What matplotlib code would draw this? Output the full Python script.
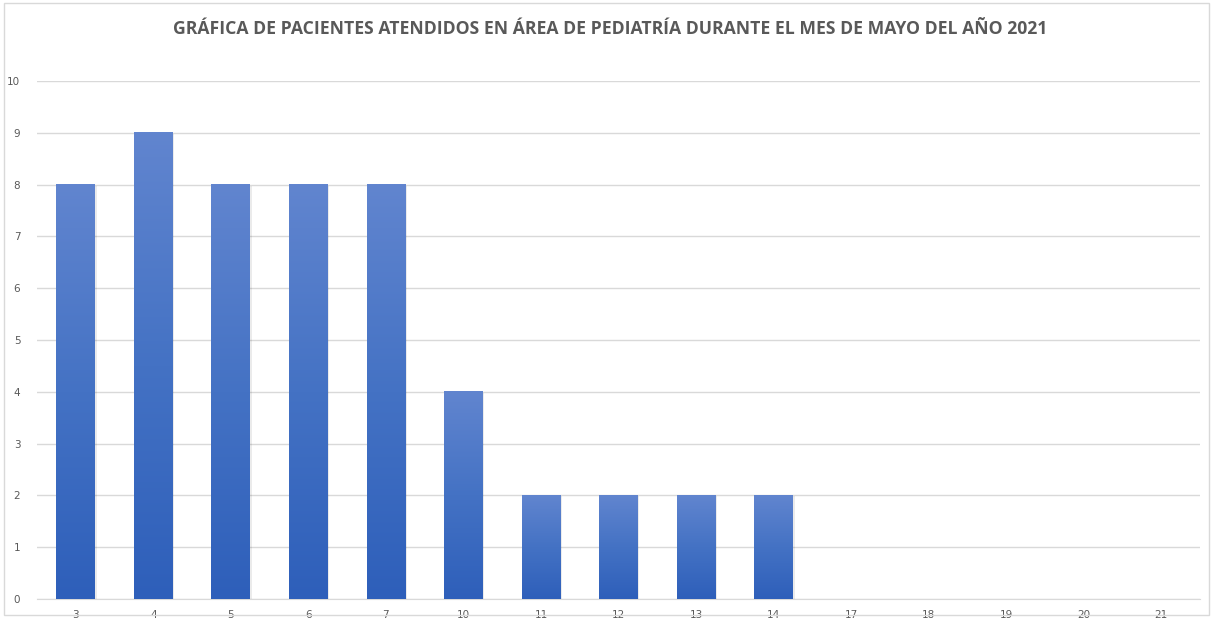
import matplotlib.pyplot as plt
import numpy as np
from matplotlib.colors import LinearSegmentedColormap
from matplotlib.patches import Rectangle

# datos
dias = ['3', '4', '5', '6', '7', '10', '11', '12', '13', '14', '17', '18', '19', '20', '21']
pacientes = [8, 9, 8, 8, 8, 4, 2, 2, 2, 2, 0, 0, 0, 0, 0]

fig = plt.figure(figsize=(12.13, 6.18), dpi=100)
fig.patches.append(Rectangle((4 / 1213, 3 / 618), 1205 / 1213, 612 / 618,
                             transform=fig.transFigure, fill=False,
                             edgecolor='#d9d9d9', linewidth=1))
ax = fig.add_axes([37 / 1213, 19 / 618, 1163 / 1213, 518 / 618])

x = np.arange(len(dias))
ancho = 0.5
bars = ax.bar(x, pacientes, width=ancho, color='none', zorder=3)

# degradado vertical en cada barra
cmap = LinearSegmentedColormap.from_list('azul', ['#2e5fba', '#4472c4', '#6185cf'])
grad = np.linspace(0, 1, 256).reshape(-1, 1)
for b in bars:
    h = b.get_height()
    if h <= 0:
        continue
    x0 = b.get_x()
    ax.add_patch(Rectangle((x0 + 0.02, 0), ancho, h - 0.02, color='#000000',
                           alpha=0.08, linewidth=0, zorder=2))
    ax.imshow(grad, extent=[x0, x0 + ancho, 0, h], origin='lower',
              cmap=cmap, aspect='auto', zorder=3, interpolation='bilinear')

ax.set_xlim(-0.5, len(dias) - 0.5)
ax.set_ylim(0, 10)
ax.set_yticks(range(0, 11))
ax.set_xticks(x)
ax.set_xticklabels(dias)
ax.tick_params(length=0, labelsize=7.5, colors='#595959', pad=8)
ax.tick_params(axis='y', pad=12)
ax.grid(axis='y', color='#d9d9d9', linewidth=1, zorder=0)
ax.set_axisbelow(True)
for s in ['top', 'right', 'left']:
    ax.spines[s].set_visible(False)
ax.spines['bottom'].set_color('#d9d9d9')

fig.text(0.503, 0.953, 'GRÁFICA DE PACIENTES ATENDIDOS EN ÁREA DE PEDIATRÍA DURANTE EL MES DE MAYO DEL AÑO 2021',
         ha='center', va='center', fontsize=12.7, fontweight='bold', color='#595959',
         family='Open Sans')

fig.savefig('out.png', dpi=100)
